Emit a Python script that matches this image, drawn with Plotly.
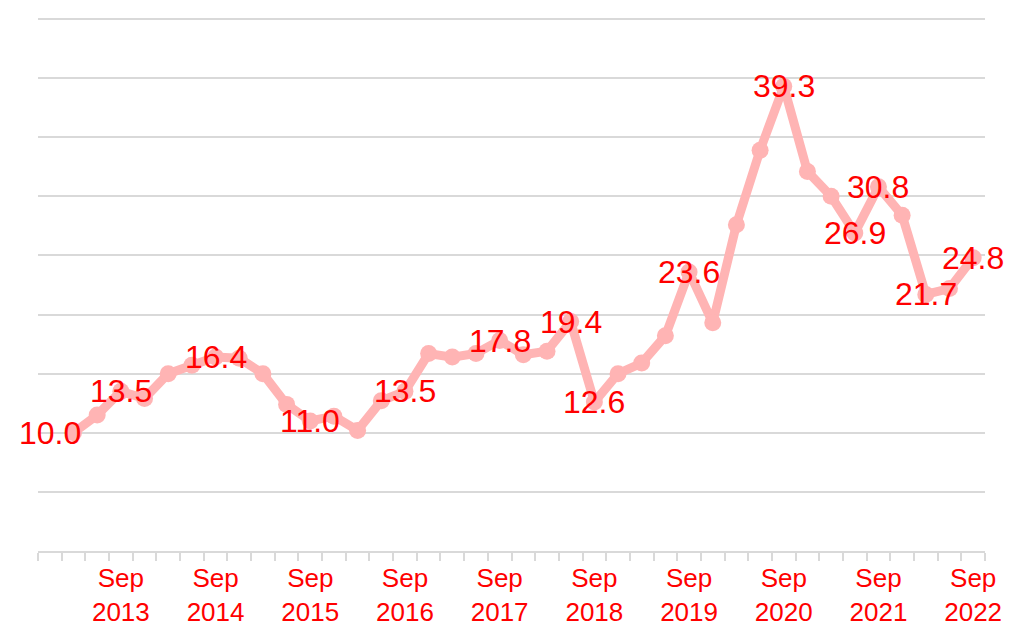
import plotly.graph_objects as go

# ---- data -------------------------------------------------------------
categories = [f"{m} {y}" for y in range(2012, 2023) for m in ("Mar", "Jun", "Sep", "Dec")]
categories = categories[categories.index("Dec 2012"):categories.index("Sep 2022") + 1]

values = [None, 10.0, 11.5, 13.5, 12.9, 15.0, 15.7, 16.4, 16.3, 15.0,
          12.4, 11.0, 11.4, 10.2, 12.7, 13.5, 16.7, 16.4, 16.7, 17.8,
          16.6, 16.9, 19.4, 12.6, 15.0, 15.9, 18.2, 23.6, 19.3, 27.6,
          33.9, 39.3, 32.1, 30.0, 26.9, 30.8, 28.4, 21.7, 22.2, 24.8]

labelled = ["Mar 2013", "Sep 2013", "Sep 2014", "Sep 2015", "Sep 2016",
            "Sep 2017", "Jun 2018", "Sep 2018", "Sep 2019", "Sep 2020",
            "Jun 2021", "Sep 2021", "Mar 2022", "Sep 2022"]

tick_labels = ["Sep 2013", "Sep 2014", "Sep 2015", "Sep 2016", "Sep 2017",
               "Sep 2018", "Sep 2019", "Sep 2020", "Sep 2021", "Sep 2022"]

# ---- figure -----------------------------------------------------------
x_pos = list(range(len(categories)))
LINE = "#FFB4B4"
RED = "#FF0000"
GRID = "#D9D9D9"
FONT = "Liberation Sans, Arial, sans-serif"

fig = go.Figure()
fig.add_trace(go.Scatter(
    x=x_pos, y=values, mode="lines+markers",
    line=dict(color=LINE, width=9),
    marker=dict(color=LINE, size=17),
    hoverinfo="skip", showlegend=False,
))

for cat in labelled:
    i = categories.index(cat)
    fig.add_annotation(
        x=i, y=values[i], text=f"{values[i]:.1f}", showarrow=False,
        xanchor="center", yanchor="middle",
        xshift=-24 if i == 1 else 0,
        font=dict(family=FONT, size=32, color=RED),
    )

fig.update_layout(
    width=1024, height=637,
    margin=dict(l=38, r=39, t=13, b=86, autoexpand=False),
    paper_bgcolor="white", plot_bgcolor="white",
    xaxis=dict(
        range=[-0.5, len(categories) - 0.5],
        tickmode="array",
        tickvals=[categories.index(t) for t in tick_labels],
        ticktext=[t.replace(" ", "<br>") for t in tick_labels],
        ticks="", showgrid=False, zeroline=False, automargin=False,
        showline=True, linecolor=GRID, linewidth=2,
        tickfont=dict(family=FONT, size=26, color=RED),
        ticklabelstandoff=3,
        minor=dict(tickmode="linear", tick0=-0.5, dtick=1, ticks="outside",
                   ticklen=8, tickwidth=1.5, tickcolor=GRID, showgrid=False),
    ),
    yaxis=dict(
        range=[0, 45.5], dtick=5, tick0=0, automargin=False,
        showgrid=True, gridcolor=GRID, gridwidth=1.5,
        showticklabels=False, zeroline=False, showline=False, ticks="",
    ),
)

fig.write_html("out.html", config={"displayModeBar": False},
               post_script="document.body.style.margin='0';")
